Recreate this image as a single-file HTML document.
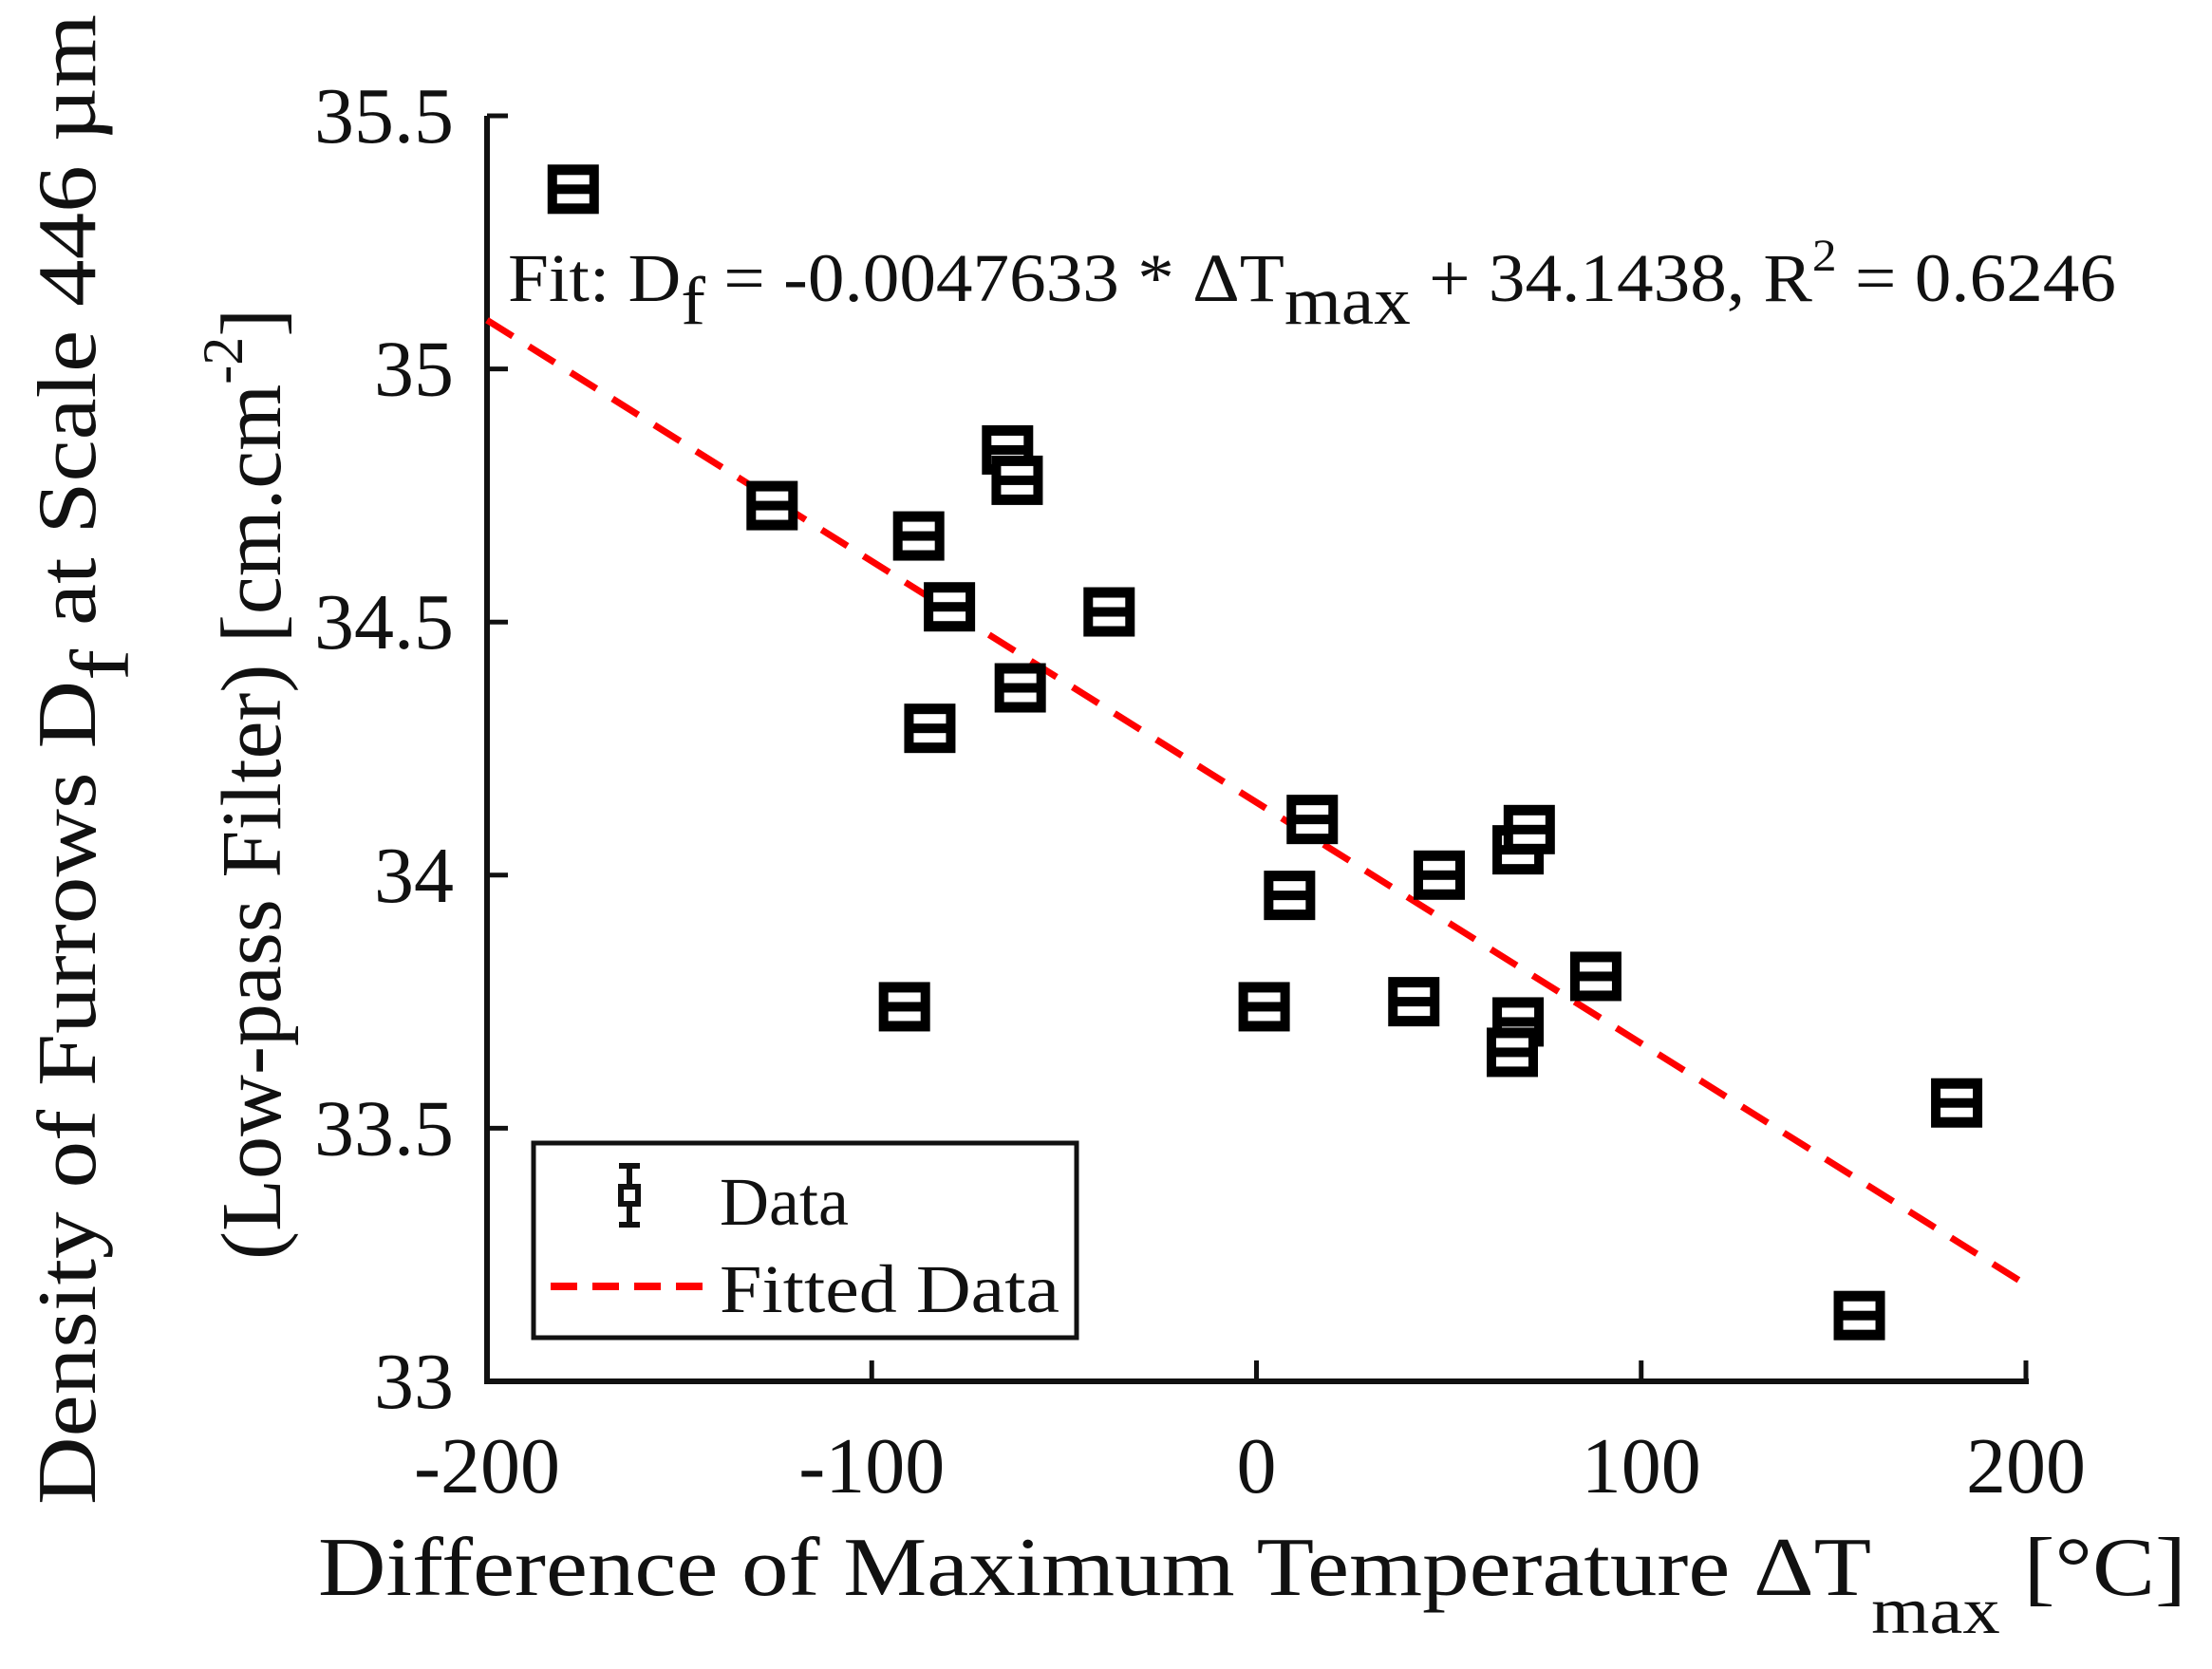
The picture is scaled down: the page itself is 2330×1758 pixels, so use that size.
<!DOCTYPE html>
<html><head><meta charset="utf-8"><style>
html,body{margin:0;padding:0;background:#fff;}
svg{display:block;font-family:"Liberation Serif","Times New Roman",serif;}
</style></head><body>
<svg id="chart" width="2330" height="1758" viewBox="0 0 2330 1758" xmlns="http://www.w3.org/2000/svg">
<g id="axes"></g>
<g id="fit"></g>
<g id="marks"></g>
<text x="535" y="317" font-size="72" fill="#111" textLength="1694" lengthAdjust="spacingAndGlyphs">Fit: D<tspan dy="24">f</tspan><tspan dy="-24"> = -0.0047633 * ΔT</tspan><tspan dy="24">max</tspan><tspan dy="-24"> + 34.1438, R</tspan><tspan font-size="48" dy="-32">2</tspan><tspan dy="32"> = 0.6246</tspan></text>
<text x="335" y="1680" font-size="88" fill="#111" textLength="1968" lengthAdjust="spacingAndGlyphs">Difference of Maximum Temperature ΔT<tspan dy="40" font-size="70">max</tspan><tspan dy="-40"> [°C]</tspan></text>
<text transform="translate(100,1585) rotate(-90)" font-size="88" fill="#111" textLength="1570" lengthAdjust="spacingAndGlyphs">Density of Furrows D<tspan dy="35">f</tspan><tspan dy="-35"> at Scale 446 µm</tspan></text>
<text transform="translate(295,1327) rotate(-90)" font-size="90" fill="#111">(Low-pass Filter) [cm.cm<tspan font-size="60" dy="-40">-2</tspan><tspan dy="40">]</tspan></text>
<g>
<rect x="562" y="1204" width="572" height="205" fill="#fff" stroke="#111" stroke-width="5"/>
<g>
<line x1="663" y1="1228" x2="663" y2="1290" stroke="#111" stroke-width="6"/>
<line x1="652" y1="1228" x2="674" y2="1228" stroke="#111" stroke-width="6"/>
<line x1="652" y1="1290" x2="674" y2="1290" stroke="#111" stroke-width="6"/>
<rect x="654" y="1250" width="18" height="18" fill="#fff" stroke="#111" stroke-width="6"/>
</g>
<text x="758" y="1290" font-size="72" fill="#111">Data</text>
<line x1="580" y1="1355" x2="740" y2="1355" stroke="#f00" stroke-width="8" stroke-dasharray="28,16"/>
<text x="758" y="1382" font-size="72" fill="#111" textLength="358" lengthAdjust="spacingAndGlyphs">Fitted Data</text>
</g>
</svg>
<script>
const xTicks=[-200,-100,0,100,200];
const yTicks=[33,33.5,34,34.5,35,35.5];
const xTickLabels=["-200","-100","0","100","200"];
const yTickLabels=["33","33.5","34","34.5","35","35.5"];
const xValues=[-177.6,-125.9,-87.8,-79.8,-84.9,-91.5,-64.7,-62.2,-61.4,-38.3,2.0,14.5,8.6,40.9,47.5,68.0,70.9,68.0,66.5,88.2,156.7,182.0];
const yValues=[35.355,34.73,34.67,34.53,34.29,33.74,34.84,34.78,34.37,34.52,33.74,34.11,33.96,33.75,34.00,34.05,34.09,33.71,33.65,33.80,33.13,33.55];
const fitSlope=-0.0047633;
const fitIntercept=34.1438;
const fitRange=[-200,200];

const NS="http://www.w3.org/2000/svg";
const X0=513,X1=2134,Y0=1455,Y1=122;
function sx(v){return X0+(v-(-200))/400*(X1-X0);}
function sy(v){return Y0-(v-33)/2.5*(Y0-Y1);}
function mk(tag,attrs,parent){const e=document.createElementNS(NS,tag);for(const k in attrs)e.setAttribute(k,attrs[k]);parent.appendChild(e);return e;}

const axes=document.getElementById('axes');
let l=mk('line',{x1:X0,y1:Y1,x2:X0,y2:Y0+3,stroke:'#111','stroke-width':6},axes);


l=mk('line',{x1:X0-3,y1:Y0,x2:X1+3,y2:Y0,stroke:'#111','stroke-width':6},axes);


xTicks.forEach((t,i)=>{
  const tk=mk('line',{x1:sx(t),y1:Y0,x2:sx(t),y2:Y0-22,stroke:'#111','stroke-width':5},axes);
  
  
  const tx=mk('text',{x:sx(t),y:1572,'font-size':84,'text-anchor':'middle',fill:'#111'},axes);
  tx.textContent=xTickLabels[i];
  
  
});
yTicks.forEach((t,i)=>{
  const tk=mk('line',{x1:X0,y1:sy(t),x2:X0+22,y2:sy(t),stroke:'#111','stroke-width':5},axes);
  
  
  const tx=mk('text',{x:478,y:sy(t)+28,'font-size':84,'text-anchor':'end',fill:'#111'},axes);
  tx.textContent=yTickLabels[i];
  
  
});

const fit=document.getElementById('fit');
const fl=mk('line',{x1:sx(fitRange[0]),y1:sy(fitSlope*fitRange[0]+fitIntercept),x2:sx(fitRange[1]),y2:sy(fitSlope*fitRange[1]+fitIntercept),stroke:'#f00','stroke-width':7,'stroke-dasharray':'32,20'},fit);



const marks=document.getElementById('marks');
xValues.forEach((v,i)=>{
  const cx=sx(v),cy=sy(yValues[i]);
  const g=mk('g',{},marks);
  
  
  mk('rect',{x:cx-27,y:cy-26,width:54,height:52,fill:'#000'},g);
  mk('rect',{x:cx-17,y:cy-15,width:34,height:10,fill:'#fff'},g);
  mk('rect',{x:cx-17,y:cy+5,width:34,height:10,fill:'#fff'},g);
});
</script>
</body></html>
